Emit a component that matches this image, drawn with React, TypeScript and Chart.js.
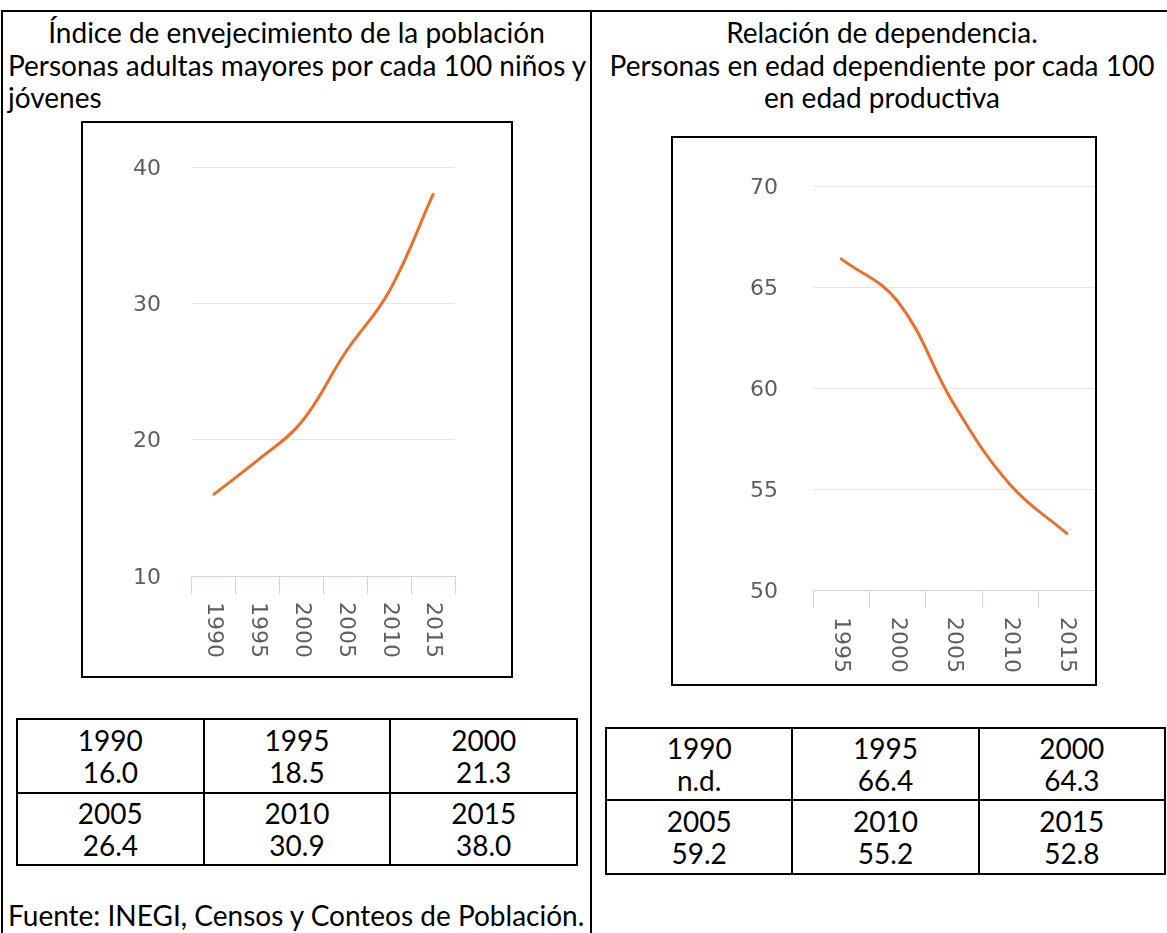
import React, { useEffect, useRef } from "react";
import { Chart, registerables } from "chart.js";

Chart.register(...registerables);

// ---- data ----
const agingYears = ["1990", "1995", "2000", "2005", "2010", "2015"];
const agingValues = [16.0, 18.5, 21.3, 26.4, 30.9, 38.0];
const agingTickMin = 10;
const agingTickMax = 40;
const agingTickStep = 10;

const depYears = ["1995", "2000", "2005", "2010", "2015"];
const depValues = [66.4, 64.3, 59.2, 55.2, 52.8];
const depTickMin = 50;
const depTickMax = 70;
const depTickStep = 5;

const agingTableYears = ["1990", "1995", "2000", "2005", "2010", "2015"];
const agingTableValues = ["16.0", "18.5", "21.3", "26.4", "30.9", "38.0"];
const depTableYears = ["1990", "1995", "2000", "2005", "2010", "2015"];
const depTableValues = ["n.d.", "66.4", "64.3", "59.2", "55.2", "52.8"];

const leftTitle1 = "Índice de envejecimiento de la población";
const leftTitle2 = "Personas adultas mayores por cada 100 niños y";
const leftTitle3 = "jóvenes";
const rightTitle = ["Relación de dependencia.", "Personas en edad dependiente por cada 100", "en edad productiva"];
const sourceNote = "Fuente: INEGI, Censos y Conteos de Población.";

const TEXT_FONT = 'Lato, "Open Sans", sans-serif';
const TICK_FONT = '"DejaVu Sans", Verdana, sans-serif';
const TICK_COLOR = "#5e5e5e";
const LINE_COLOR = "#E8702A";

const rotatedLabels = {
  id: "rotatedLabels",
  afterDraw(chart: any, _args: any, opts: any) {
    const xs = chart.scales.x;
    const ctx = chart.ctx;
    ctx.save();
    ctx.font = `22px ${TICK_FONT}`;
    ctx.fillStyle = TICK_COLOR;
    ctx.textAlign = "left";
    ctx.textBaseline = "middle";
    (chart.data.labels as string[]).forEach((lab, i) => {
      const px = xs.getPixelForValue(i);
      ctx.save();
      ctx.translate(px, xs.top + opts.gap);
      ctx.rotate(Math.PI / 2);
      ctx.fillText(String(lab), 0, 0);
      ctx.restore();
    });
    ctx.restore();
  },
};

type LineProps = {
  labels: string[];
  values: number[];
  min: number;
  max: number;
  step: number;
  width: number;
  height: number;
  leftW: number;
  topPad: number;
  rightPad: number;
  bottomH: number;
  tickPad: number;
  labelGap: number;
};

function LineChart(p: LineProps) {
  const ref = useRef<HTMLCanvasElement | null>(null);
  useEffect(() => {
    if (!ref.current) return;
    const chart = new Chart(ref.current, {
      type: "line",
      data: {
        labels: p.labels,
        datasets: [
          {
            data: p.values,
            borderColor: LINE_COLOR,
            borderWidth: 3,
            tension: 0.4,
            pointRadius: 0,
            fill: false,
            borderCapStyle: "round",
          },
        ],
      },
      options: {
        animation: false,
        responsive: false,
        devicePixelRatio: 1,
        layout: { padding: { left: 0, top: p.topPad, right: p.rightPad, bottom: 0 } },
        plugins: {
          legend: { display: false },
          tooltip: { enabled: false },
          rotatedLabels: { gap: p.labelGap },
        } as any,
        scales: {
          x: {
            type: "category",
            offset: true,
            grid: {
              offset: true,
              drawOnChartArea: false,
              drawTicks: true,
              tickLength: 18,
              color: "#ccd6eb",
              lineWidth: 1,
            },
            border: { display: true, color: "#ccd6eb", width: 1 },
            ticks: { display: false },
            afterFit: (s: any) => {
              s.height = p.bottomH;
            },
          },
          y: {
            min: p.min,
            max: p.max,
            ticks: {
              stepSize: p.step,
              color: TICK_COLOR,
              font: { family: TICK_FONT, size: 22 },
              padding: p.tickPad,
              labelOffset: 2,
            },
            grid: { color: "#e6e6e6", drawTicks: false, lineWidth: 1 },
            border: { display: false },
            afterFit: (s: any) => {
              s.width = p.leftW;
            },
          },
        },
      },
      plugins: [rotatedLabels as any],
    });
    return () => chart.destroy();
  }, []);
  return (
    <canvas
      ref={ref}
      width={p.width}
      height={p.height}
      style={{ display: "block", width: p.width, height: p.height }}
    />
  );
}

function abs(left: number, top: number, extra: React.CSSProperties = {}): React.CSSProperties {
  return { position: "absolute", left, top, ...extra };
}

function DataTable(props: {
  x0: number;
  colW: number;
  rowTops: number[];
  rowHs: number[];
  years: string[];
  values: string[];
}) {
  const cells: React.ReactNode[] = [];
  for (let r = 0; r < 2; r++) {
    for (let c = 0; c < 3; c++) {
      const i = r * 3 + c;
      cells.push(
        <div
          key={i}
          style={abs(props.x0 + c * props.colW, props.rowTops[r], {
            width: props.colW + 2,
            height: props.rowHs[r] + 2,
            boxSizing: "border-box",
            border: "2px solid #000",
            display: "flex",
            flexDirection: "column",
            alignItems: "center",
            justifyContent: "center",
            lineHeight: "32.5px",
          })}
        >
          <div>{props.years[i]}</div>
          <div>{props.values[i]}</div>
        </div>
      );
    }
  }
  return <>{cells}</>;
}

export default function App() {
  return (
    <div
      style={{
        position: "absolute",
        left: 0,
        top: 0,
        width: 1167,
        height: 933,
        overflow: "hidden",
        background: "#fff",
        fontFamily: TEXT_FONT,
        fontSize: 28,
        color: "#000",
      }}
    >
      {/* outer table lines */}
      <div style={abs(1, 10, { width: 1166, height: 2, background: "#000" })} />
      <div style={abs(1, 10, { width: 2, height: 923, background: "#000" })} />
      <div style={abs(590, 10, { width: 2, height: 923, background: "#000" })} />

      {/* left title */}
      <div style={abs(3, 16, { width: 587, textAlign: "center", lineHeight: "32.5px", whiteSpace: "nowrap" })}>
        {leftTitle1}
      </div>
      <div style={abs(8, 48.5, { lineHeight: "32.5px", whiteSpace: "nowrap" })}>{leftTitle2}</div>
      <div style={abs(8, 81, { lineHeight: "32.5px", whiteSpace: "nowrap" })}>{leftTitle3}</div>

      {/* left chart box */}
      <div
        style={abs(81, 121, {
          width: 432,
          height: 557,
          boxSizing: "border-box",
          border: "2px solid #000",
          overflow: "hidden",
        })}
      >
        <LineChart
          labels={agingYears}
          values={agingValues}
          min={agingTickMin}
          max={agingTickMax}
          step={agingTickStep}
          width={428}
          height={553}
          leftW={109}
          topPad={41}
          rightPad={56}
          bottomH={100}
          tickPad={31}
          labelGap={26}
        />
      </div>

      <DataTable
        x0={16}
        colW={186.67}
        rowTops={[718, 792]}
        rowHs={[74, 72]}
        years={agingTableYears}
        values={agingTableValues}
      />

      <div style={abs(8, 899, { lineHeight: "32.5px", whiteSpace: "nowrap" })}>{sourceNote}</div>

      {/* right title */}
      <div style={abs(592, 16, { width: 580, textAlign: "center", lineHeight: "32.5px", whiteSpace: "nowrap" })}>
        {rightTitle.map((t, i) => (
          <div key={i}>{t}</div>
        ))}
      </div>

      {/* right chart box */}
      <div
        style={abs(671, 136, {
          width: 426,
          height: 550,
          boxSizing: "border-box",
          border: "2px solid #000",
          overflow: "hidden",
        })}
      >
        <LineChart
          labels={depYears}
          values={depValues}
          min={depTickMin}
          max={depTickMax}
          step={depTickStep}
          width={422}
          height={546}
          leftW={140}
          topPad={31}
          rightPad={0}
          bottomH={94}
          tickPad={35}
          labelGap={27}
        />
      </div>

      <DataTable
        x0={605}
        colW={186.33}
        rowTops={[727, 799]}
        rowHs={[72, 74]}
        years={depTableYears}
        values={depTableValues}
      />
    </div>
  );
}
